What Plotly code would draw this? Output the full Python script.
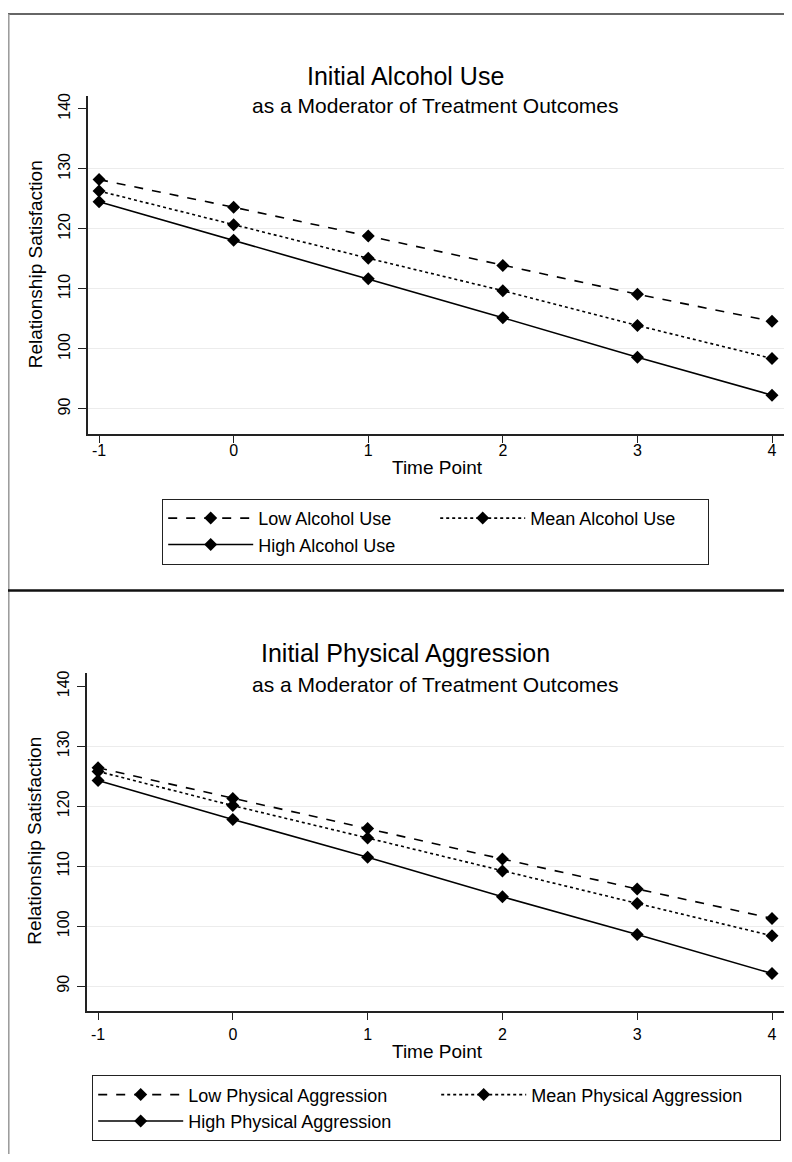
import plotly.graph_objects as go

time_points = [-1, 0, 1, 2, 3, 4]
y_ticks = [90, 100, 110, 120, 130, 140]
grid_ticks = [90, 100, 110, 120, 130]

alc_low = [128.2, 123.6, 118.8, 113.9, 109.1, 104.6]
alc_mean = [126.3, 120.7, 115.1, 109.7, 103.9, 98.4]
alc_high = [124.5, 118.1, 111.7, 105.2, 98.6, 92.3]

agg_low = [126.4, 121.3, 116.3, 111.2, 106.2, 101.3]
agg_mean = [125.8, 120.1, 114.7, 109.2, 103.8, 98.4]
agg_high = [124.3, 117.8, 111.5, 104.9, 98.6, 92.1]

# page body has an 8px margin; the figure fills the rest of the window
OFF = 8
W, H = 792 - 2 * OFF, 1162 - 2 * OFF
FONT = "Liberation Sans, Arial, sans-serif"


def px(x):
    return (x - OFF) / W


def py(y):
    return 1 - (y - OFF) / H


fig = go.Figure()

dashes = ["dash", "dot", "solid"]


def add_panel(data, names, xa, ya, legend):
    for vals, dash, name in zip(data, dashes, names):
        fig.add_trace(go.Scatter(
            x=time_points, y=vals, mode="lines+markers", name=name,
            line=dict(color="black", width=1.6, dash=dash),
            marker=dict(symbol="diamond", size=10, color="black"),
            xaxis=xa, yaxis=ya, legend=legend, showlegend=True,
        ))


add_panel([alc_low, alc_mean, alc_high],
          ["Low Alcohol Use", "Mean Alcohol Use", "High Alcohol Use"],
          "x", "y", "legend")
add_panel([agg_low, agg_mean, agg_high],
          ["Low Physical Aggression", "Mean Physical Aggression", "High Physical Aggression"],
          "x2", "y2", "legend2")

xr = [-1.082, 4.089]
yr = [85.85, 142.16]

tick_font = dict(family=FONT, size=16, color="black")


def xaxis_cfg(dom, anchor, standoff):
    return dict(domain=dom, anchor=anchor, range=xr, tickvals=time_points,
                ticktext=[str(t) for t in time_points], showline=True,
                linecolor="#222", linewidth=1.5, ticks="outside", ticklen=7,
                tickcolor="#222", tickwidth=1.2, showgrid=False, zeroline=False,
                tickfont=tick_font, ticklabelstandoff=standoff)


def yaxis_cfg(dom, anchor):
    return dict(domain=dom, anchor=anchor, range=yr, tickvals=y_ticks,
                showline=True, linecolor="#222", linewidth=1.5, ticks="outside",
                ticklen=8, tickcolor="#222", tickwidth=1.2, showgrid=False,
                zeroline=False, tickangle=-90, tickfont=tick_font,
                ticklabelstandoff=2)


def grid_cfg(dom, anchor, over):
    return dict(domain=dom, anchor=anchor, overlaying=over, range=yr,
                tickvals=grid_ticks, showticklabels=False, ticks="",
                showgrid=True, gridcolor="#ececec", gridwidth=1.2,
                zeroline=False, showline=False)


top_x = [px(88), px(784)]
top_y = [py(432), py(93)]
bot_x = [px(87), px(784)]
bot_y = [py(1010.7), py(672)]

legend_font = dict(family=FONT, size=18, color="black")

fig.update_layout(
    width=W, height=H, margin=dict(l=0, r=0, t=0, b=0),
    paper_bgcolor="white", plot_bgcolor="rgba(0,0,0,0)",
    font=dict(family=FONT, color="black"),
    xaxis=xaxis_cfg(top_x, "y", -6),
    yaxis=yaxis_cfg(top_y, "x"),
    xaxis2=xaxis_cfg(bot_x, "y2", 1),
    yaxis2=yaxis_cfg(bot_y, "x2"),
    yaxis3=grid_cfg(top_y, "x", "y"),
    yaxis4=grid_cfg(bot_y, "x2", "y2"),
    legend=dict(x=px(162), y=py(497), xanchor="left", yanchor="top",
                orientation="h", itemwidth=85, entrywidth=172,
                entrywidthmode="pixels", bordercolor="#222", borderwidth=1.2,
                bgcolor="white", font=legend_font, traceorder="normal"),
    legend2=dict(x=px(92), y=py(1075), xanchor="left", yanchor="top",
                 orientation="h", itemwidth=85, entrywidth=243,
                 entrywidthmode="pixels", bordercolor="#222", borderwidth=1.2,
                 bgcolor="white", font=legend_font, traceorder="normal"),
    showlegend=True,
)

fig.add_trace(go.Scatter(x=[None], y=[None], xaxis="x", yaxis="y3",
                         showlegend=False, hoverinfo="skip"))
fig.add_trace(go.Scatter(x=[None], y=[None], xaxis="x2", yaxis="y4",
                         showlegend=False, hoverinfo="skip"))

title_font = dict(family=FONT, size=25, color="black")
sub_font = dict(family=FONT, size=21, color="black")
axt_font = dict(family=FONT, size=19, color="black")


def ann(text, x, y, font, angle=0):
    fig.add_annotation(text=text, x=px(x), y=py(y), xref="paper", yref="paper",
                       showarrow=False, font=font, xanchor="center",
                       yanchor="middle", textangle=angle)


ann("Initial Alcohol Use", 406, 73, title_font)
ann("as a Moderator of Treatment Outcomes", 435, 103, sub_font)
ann("Initial Physical Aggression", 406, 652, title_font)
ann("as a Moderator of Treatment Outcomes", 435, 683, sub_font)

ann("Time Point", 437, 466, axt_font)
ann("Time Point", 437, 1051, axt_font)
ann("Relationship Satisfaction", 35, 262, axt_font, -90)
ann("Relationship Satisfaction", 35, 840, axt_font, -90)

# frame lines
fig.add_shape(type="line", xref="paper", yref="paper", x0=px(8), x1=1,
              y0=py(11), y1=py(11), line=dict(color="#333", width=1.5))
fig.add_shape(type="line", xref="paper", yref="paper", x0=px(8.8), x1=px(8.8),
              y0=py(11), y1=0, line=dict(color="#999", width=1.5))
fig.add_shape(type="line", xref="paper", yref="paper", x0=px(8), x1=1,
              y0=py(589), y1=py(589), line=dict(color="#111", width=2.5))

fig.write_html("out.html")
